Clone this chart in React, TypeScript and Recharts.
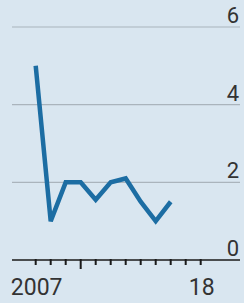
import React from 'react'
import {CartesianGrid, Line, LineChart, XAxis, YAxis} from 'recharts'

const years = [2007, 2008, 2009, 2010, 2011, 2012, 2013, 2014, 2015, 2016]
const values = [5.0, 1.0, 2.0, 2.0, 1.55, 2.0, 2.1, 1.5, 1.0, 1.5]
const xTicks = [2007, 2008, 2009, 2010, 2011, 2012, 2013, 2014, 2015, 2016, 2017, 2018]
const xLabels: {[k: number]: string} = {2007: '2007', 2018: '18'}
const yTicks = [0, 2, 4, 6]

const data = years.map((year, i) => ({year, value: values[i]}))

const FONT = 'Roboto, "Open Sans", sans-serif'
const TEXT = '#333333'

const XTick = (props: any) => {
    const {x, y, payload} = props
    const long = payload.value === 2010
    const label = xLabels[payload.value]
    return (
        <g>
            <line x1={x} x2={x} y1={y - 1} y2={y + (long ? 9 : 5)} stroke='#1a1a1a' strokeWidth={2}/>
            {label && (
                <text x={x + 1} y={y + 35} textAnchor='middle' fontSize={23} fill={TEXT} fontFamily={FONT}>
                    {label}
                </text>
            )}
        </g>
    )
}

const YTick = (props: any) => {
    const {y, payload} = props
    return (
        <text x={239} y={y - 4} textAnchor='end' fontSize={22} fill={TEXT} fontFamily={FONT}>
            {payload.value}
        </text>
    )
}

const App = () => {
    return (
        <div style={{position: 'absolute', left: 0, top: 0, width: 244, height: 303, background: '#d9e6f0'}}>
            <LineChart
                width={244}
                height={303}
                data={data}
                margin={{top: 27, right: 3, left: 12, bottom: 0}}
            >
                <CartesianGrid vertical={false} stroke='#aab4bc' strokeWidth={1.2}/>
                <XAxis
                    dataKey='year'
                    type='number'
                    domain={[2005.42, 2020.62]}
                    ticks={xTicks}
                    interval={0}
                    height={43}
                    tickSize={0}
                    tickMargin={0}
                    tickLine={false}
                    axisLine={{stroke: '#222', strokeWidth: 1.5}}
                    tick={<XTick/>}
                    allowDataOverflow
                />
                <YAxis
                    domain={[0, 6]}
                    ticks={yTicks}
                    interval={0}
                    width={1}
                    axisLine={false}
                    tickLine={false}
                    tick={<YTick/>}
                    orientation='right'
                />
                <Line
                    type='linear'
                    dataKey='value'
                    stroke='#1c6da3'
                    strokeWidth={4.5}
                    dot={false}
                    isAnimationActive={false}
                />
            </LineChart>
        </div>
    )
}
export default App
